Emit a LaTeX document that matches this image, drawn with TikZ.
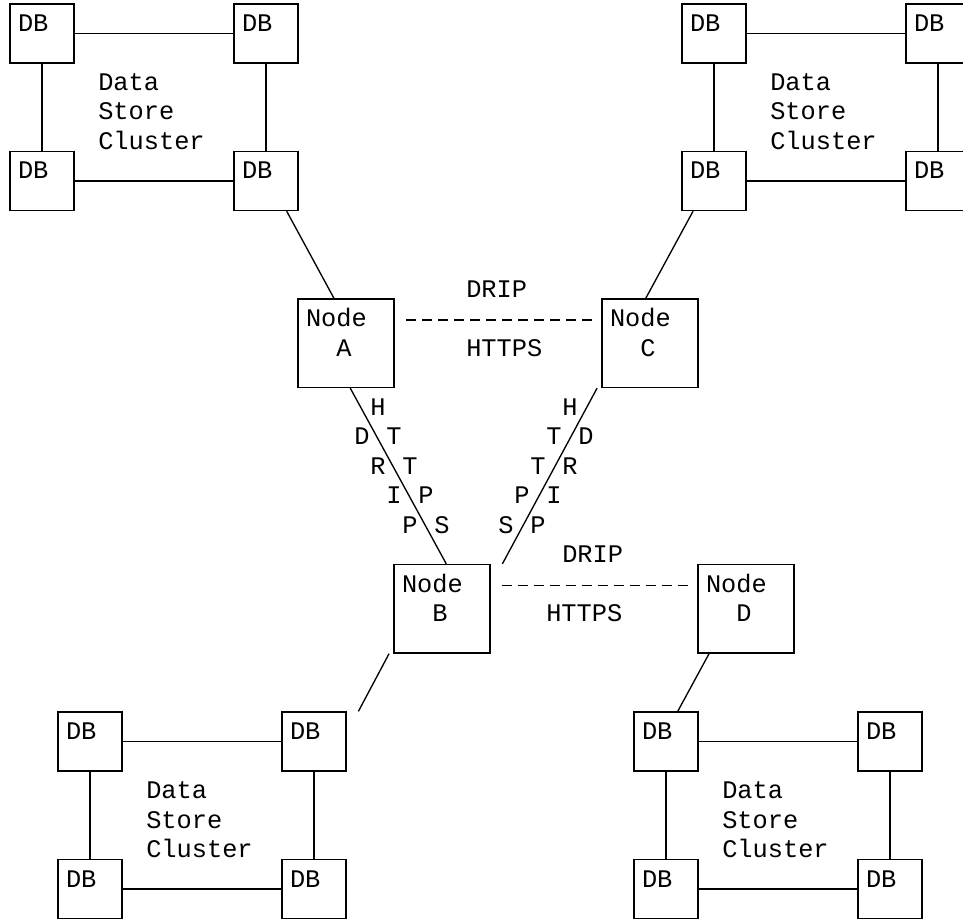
\documentclass[tikz,border=0pt]{standalone}
\usepackage{fontspec}
\setmonofont{Liberation Mono}

\begin{document}
\begin{tikzpicture}[x=0.75pt, y=-0.75pt,
    txt/.style={font=\ttfamily\fontsize{19}{22.125}\selectfont, inner sep=0pt},
    db/.style={rectangle, draw, line width=1pt, txt, text width=36pt, align=left, inner xsep=6pt, inner ysep=0pt, text height=20.625pt, text depth=23.625pt},
    srv/.style={rectangle, draw, line width=1pt, txt, text width=60pt, align=left, inner xsep=6pt, inner ysep=0pt, text height=20.625pt, text depth=45.75pt},
    lbl/.style={txt, anchor=base},
    clusterlbl/.style={txt, anchor=base west, text width=84pt, align=left},
    link/.style={line width=1pt},
    proto/.style={link, dash pattern=on 7.5pt off 4.5pt, dash phase=7.5pt, shorten <=4pt, shorten >=4pt}]

    \useasboundingbox (0,0) rectangle (963,920);
    \clip (0,0) rectangle (963,920);

    % Top left cluster
    \node[db] (tl1) at (42,33.5) {DB};
    \node[db] (tl2) at (266,33.5) {DB};
    \node[db] (tl3) at (42,181) {DB};
    \node[db] (tl4) at (266,181) {DB};
    \node[clusterlbl] (tlname) at (98,90.5) {Data\\Store\\Cluster};
    \draw[link] (tl1) -- (tl2);
    \draw[link] (tl3) -- (tl4);
    \draw[link] (tl1) -- (tl3);
    \draw[link] (tl2) -- (tl4);

    % Top right cluster
    \node[db] (tr1) at (714,33.5) {DB};
    \node[db] (tr2) at (938,33.5) {DB};
    \node[db] (tr3) at (714,181) {DB};
    \node[db] (tr4) at (938,181) {DB};
    \node[clusterlbl] (trname) at (770,90.5) {Data\\Store\\Cluster};
    \draw[link] (tr1) -- (tr2);
    \draw[link] (tr3) -- (tr4);
    \draw[link] (tr1) -- (tr3);
    \draw[link] (tr2) -- (tr4);

    % Bottom left cluster
    \node[db] (bl1) at (90,741.5) {DB};
    \node[db] (bl2) at (314,741.5) {DB};
    \node[db] (bl3) at (90,889) {DB};
    \node[db] (bl4) at (314,889) {DB};
    \node[clusterlbl] (blname) at (146,798.5) {Data\\Store\\Cluster};
    \draw[link] (bl1) -- (bl2);
    \draw[link] (bl3) -- (bl4);
    \draw[link] (bl1) -- (bl3);
    \draw[link] (bl2) -- (bl4);

    % Bottom right cluster
    \node[db] (br1) at (666,741.5) {DB};
    \node[db] (br2) at (890,741.5) {DB};
    \node[db] (br3) at (666,889) {DB};
    \node[db] (br4) at (890,889) {DB};
    \node[clusterlbl] (brname) at (722,798.5) {Data\\Store\\Cluster};
    \draw[link] (br1) -- (br2);
    \draw[link] (br3) -- (br4);
    \draw[link] (br1) -- (br3);
    \draw[link] (br2) -- (br4);

    % Nodes
    \node[srv] (nodeA) at (346,343.25) {Node\\\hspace*{1.2em}A};
    \node[srv] (nodeC) at (650,343.25) {Node\\\hspace*{1.2em}C};
    \node[srv] (nodeB) at (442,608.75) {Node\\\hspace*{1.2em}B};
    \node[srv] (nodeD) at (746,608.75) {Node\\\hspace*{1.2em}D};

    % Horizontal links
    \node[txt, anchor=base west] (dripac) at (466,297) {DRIP};
    \node[txt, anchor=base west] (httpsac) at (466,356) {HTTPS};
    \draw[proto] ([yshift=17.44pt]nodeA.east) -- ([yshift=17.44pt]nodeC.west);
    \node[txt, anchor=base west] (dripbd) at (562,562.5) {DRIP};
    \node[txt, anchor=base west] (httpsbd) at (546,621.5) {HTTPS};
    \draw[proto] ([yshift=17.44pt]nodeB.east) -- ([yshift=17.44pt]nodeD.west);

    % Cluster uplinks
    \draw[link] ([xshift=-9pt]tl4.south east) -- ([xshift=-9pt]nodeA.north);
    \draw[link] ([xshift=8.8pt]tr3.south west) -- ([xshift=-3.2pt]nodeC.north);
    \draw[link] ([xshift=-3.2pt]nodeB.south west) -- ([xshift=8.8pt]bl2.north east);
    \draw[link] ([xshift=8.8pt]nodeD.south west) -- ([xshift=8.8pt]br1.north);

    % Diagonal links to node B
    \draw[link] ([xshift=3.2pt]nodeA.south) -- ([xshift=3.2pt]nodeB.north);
    \node[lbl] (ab1) at (378,415) {H};
    \node[lbl] (ab2) at (394,444.5) {T};
    \node[lbl] (ab3) at (410,474) {T};
    \node[lbl] (ab4) at (426,503.5) {P};
    \node[lbl] (ab5) at (442,533) {S};
    \node[lbl] (ab6) at (362,444.5) {D};
    \node[lbl] (ab7) at (378,474) {R};
    \node[lbl] (ab8) at (394,503.5) {I};
    \node[lbl] (ab9) at (410,533) {P};

    \draw[link] ([xshift=-3.2pt]nodeC.south west) -- ([xshift=8.8pt]nodeB.north east);
    \node[lbl] (cb1) at (570,415) {H};
    \node[lbl] (cb2) at (554,444.5) {T};
    \node[lbl] (cb3) at (538,474) {T};
    \node[lbl] (cb4) at (522,503.5) {P};
    \node[lbl] (cb5) at (506,533) {S};
    \node[lbl] (cb6) at (586,444.5) {D};
    \node[lbl] (cb7) at (570,474) {R};
    \node[lbl] (cb8) at (554,503.5) {I};
    \node[lbl] (cb9) at (538,533) {P};

\end{tikzpicture}
\end{document}
